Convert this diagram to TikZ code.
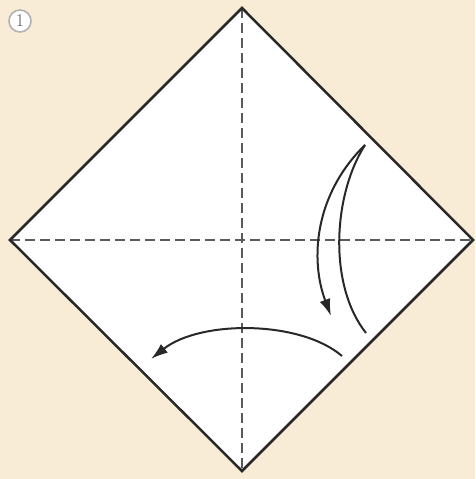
\documentclass[tikz,border=0pt]{standalone}
\usepackage{tikz}
\usetikzlibrary{arrows.meta}

\definecolor{paper}{RGB}{249,236,214}
\definecolor{edge}{RGB}{40,40,40}
\definecolor{crease}{RGB}{90,90,90}

\tikzset{
  foldline/.style={crease,line width=2pt,dash pattern=on 10pt off 5pt},
  foldarrow/.style={edge,line width=2pt},
  stepno/.style={draw=gray!60,line width=1.6pt,circle,fill=white,inner sep=0pt,minimum size=22pt,font=\fontsize{18}{18}\selectfont,text=gray!70!black}
}

\begin{document}
\begin{tikzpicture}[x=1pt,y=-1pt]

% Background
\fill[paper] (0,0) rectangle (475,479);
\useasboundingbox (0,0) rectangle (475,479);

% Step number
\node[stepno] (num) at (20,21) {1};

% Square paper
\coordinate (top) at (242,8);
\coordinate (left) at (10,240);
\coordinate (right) at (473,240);
\coordinate (bottom) at (242,471);
\fill[white] (top) -- (right) -- (bottom) -- (left) -- cycle;

% Creases
\draw[foldline] (top) -- (bottom);
\draw[foldline] (left) -- (right);

% Edges
\draw[edge,line width=2.5pt,line join=miter] (top) -- (right) -- (bottom) -- (left) -- cycle;

% Fold and unfold arrow
\coordinate (tip) at (365,145);
\coordinate (back) at (366,333);
\coordinate (head) at (331,316);
\draw[foldarrow] (tip) .. controls (333,195) and (328,285) .. (back);
\draw[foldarrow,-{Latex[length=17pt,width=11pt]}] (tip) .. controls (314,195) and (310,260) .. (head);

% Turn over arrow
\coordinate (start) at (342,356);
\coordinate (finish) at (151,359);
\draw[foldarrow,-{Latex[length=17pt,width=11pt]}] (start) .. controls (300,320) and (200,320) .. (finish);

\end{tikzpicture}
\end{document}
